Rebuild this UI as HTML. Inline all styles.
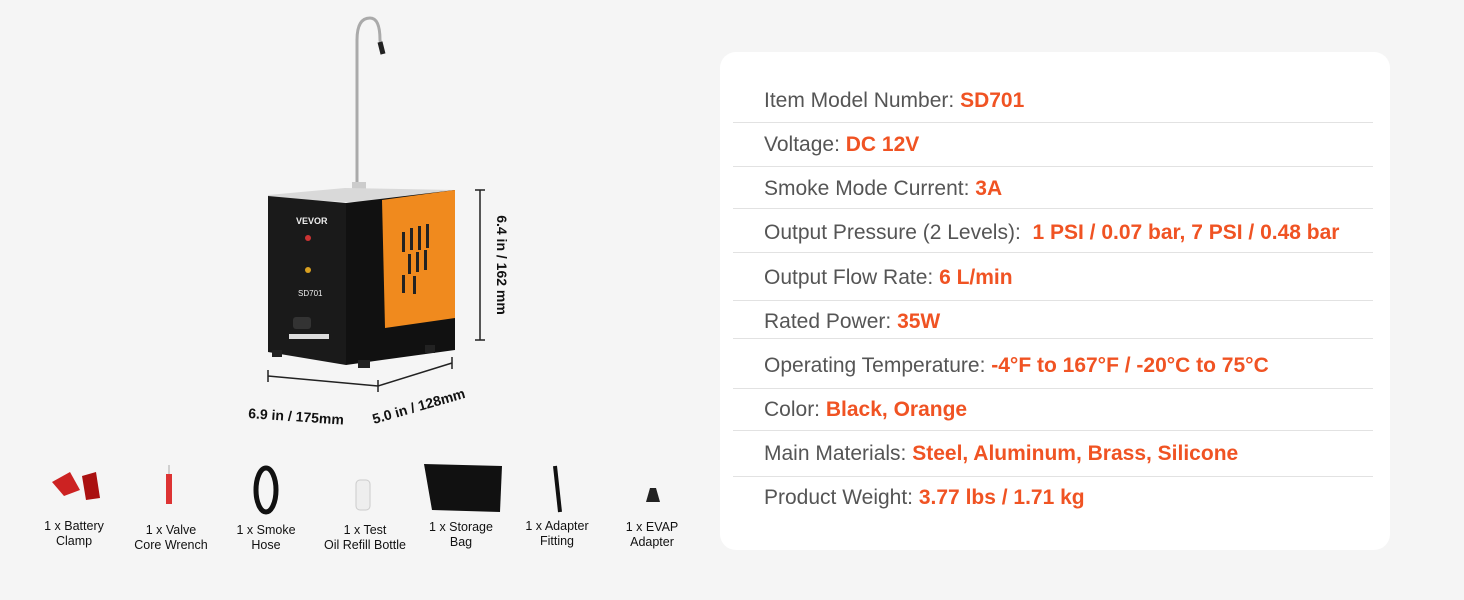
<!DOCTYPE html>
<html><head><meta charset="utf-8"><style>
body{margin:0;width:1464px;height:600px;background:#f5f5f5;font-family:"Liberation Sans",sans-serif;position:relative;overflow:hidden}
.card{position:absolute;left:720px;top:52px;width:670px;height:498px;background:#fff;border-radius:16px}
.row{position:absolute;left:44px;font-size:21px;color:#555;white-space:nowrap;transform:translateY(-50%)}
.row b{color:#f05323;font-weight:bold}
.hr{position:absolute;left:13px;width:640px;height:1px;background:#e2e2e2}
.acc{position:absolute;top:519px;font-size:12.5px;line-height:15px;color:#111;text-align:center;width:110px}
</style></head><body>
<div class="card">
<div class="row" style="top:49px">Item Model Number: <b>SD701</b></div><div class="hr" style="top:70px"></div>
<div class="row" style="top:93px">Voltage: <b>DC 12V</b></div><div class="hr" style="top:114px"></div>
<div class="row" style="top:137px">Smoke Mode Current: <b>3A</b></div><div class="hr" style="top:156px"></div>
<div class="row" style="top:181px">Output Pressure (2 Levels):&nbsp; <b>1 PSI / 0.07 bar, 7 PSI / 0.48 bar</b></div><div class="hr" style="top:200px"></div>
<div class="row" style="top:226px">Output Flow Rate: <b>6 L/min</b></div><div class="hr" style="top:248px"></div>
<div class="row" style="top:270px">Rated Power: <b>35W</b></div><div class="hr" style="top:286px"></div>
<div class="row" style="top:314px">Operating Temperature: <b>-4°F to 167°F / -20°C to 75°C</b></div><div class="hr" style="top:336px"></div>
<div class="row" style="top:358px">Color: <b>Black, Orange</b></div><div class="hr" style="top:378px"></div>
<div class="row" style="top:402px">Main Materials: <b>Steel, Aluminum, Brass, Silicone</b></div><div class="hr" style="top:424px"></div>
<div class="row" style="top:446px">Product Weight: <b>3.77 lbs / 1.71 kg</b></div>
</div>
<svg width="720" height="600" style="position:absolute;left:0;top:0">
<path d="M357 190 L357 40 Q357 18 370 18 Q380 18 380 40 L382 52" fill="none" stroke="#aaa" stroke-width="3"/>
<line x1="380" y1="42" x2="383" y2="54" stroke="#222" stroke-width="5"/>
<rect x="352" y="182" width="14" height="12" fill="#ccc"/>
<polygon points="268,195 345,188 455,190 455,200 346,202 268,198" fill="#d9d9d9"/>
<polygon points="268,196 346,203 346,365 268,352" fill="#1a1a1a"/>
<polygon points="346,203 455,190 455,350 346,365" fill="#111"/>
<polygon points="382,200 455,190 455,318 385,328" fill="#f08a1e"/>
<g fill="#222"><rect x="402" y="232" width="3" height="20"/><rect x="410" y="228" width="3" height="22"/><rect x="418" y="226" width="3" height="24"/><rect x="426" y="224" width="3" height="24"/><rect x="408" y="254" width="3" height="20"/><rect x="416" y="252" width="3" height="20"/><rect x="424" y="250" width="3" height="20"/><rect x="402" y="275" width="3" height="18"/><rect x="413" y="276" width="3" height="18"/></g>
<text x="296" y="224" fill="#eee" font-size="9" font-weight="bold">VEVOR</text>
<circle cx="308" cy="238" r="3" fill="#c33"/>
<circle cx="308" cy="270" r="3" fill="#d9a020"/>
<text x="298" y="296" fill="#eee" font-size="8">SD701</text>
<rect x="293" y="317" width="18" height="12" rx="3" fill="#333"/>
<rect x="289" y="334" width="40" height="5" fill="#ddd"/>
<rect x="358" y="360" width="12" height="8" fill="#222"/><rect x="425" y="345" width="10" height="8" fill="#222"/><rect x="272" y="350" width="10" height="7" fill="#222"/>
<g stroke="#222" stroke-width="1.5" fill="none">
<path d="M475 190 H485 M480 190 V340 M475 340 H485"/>
<path d="M268 370 V382 M268 376 L378 386 M378 380 V392 M378 386 L452 363 M452 357 V369"/>
</g>
<text transform="translate(497,265) rotate(90)" text-anchor="middle" font-size="14" font-weight="bold" fill="#111">6.4 in / 162 mm</text>
<text x="248" y="418" font-size="14" font-weight="bold" fill="#111" transform="rotate(4 248 418)">6.9 in / 175mm</text>
<text x="374" y="424" font-size="14" font-weight="bold" fill="#111" transform="rotate(-16 374 424)">5.0 in / 128mm</text>
<!-- accessories -->
<path d="M52 482 L70 472 L80 490 L64 496Z" fill="#c22"/><path d="M82 476 L96 472 L100 498 L86 500Z" fill="#a11"/>
<rect x="166" y="474" width="6" height="30" fill="#d33"/><line x1="169" y1="465" x2="169" y2="474" stroke="#aaa"/>
<ellipse cx="266" cy="490" rx="10" ry="22" fill="none" stroke="#111" stroke-width="5"/>
<rect x="356" y="480" width="14" height="30" rx="4" fill="#eee" stroke="#ccc"/>
<path d="M424 464 L502 466 L500 512 L432 510Z" fill="#111"/>
<path d="M555 466 L560 512" stroke="#111" stroke-width="4"/>
<path d="M650 488 L656 488 L660 502 L646 502Z" fill="#222"/>
</svg>
<div class="acc" style="left:19px">1 x Battery<br>Clamp</div>
<div class="acc" style="left:116px;top:523px">1 x Valve<br>Core Wrench</div>
<div class="acc" style="left:211px;top:523px">1 x Smoke<br>Hose</div>
<div class="acc" style="left:310px;top:523px">1 x Test<br>Oil Refill Bottle</div>
<div class="acc" style="left:406px;top:520px">1 x Storage<br>Bag</div>
<div class="acc" style="left:502px">1 x Adapter<br>Fitting</div>
<div class="acc" style="left:597px;top:520px">1 x EVAP<br>Adapter</div>
</body></html>
